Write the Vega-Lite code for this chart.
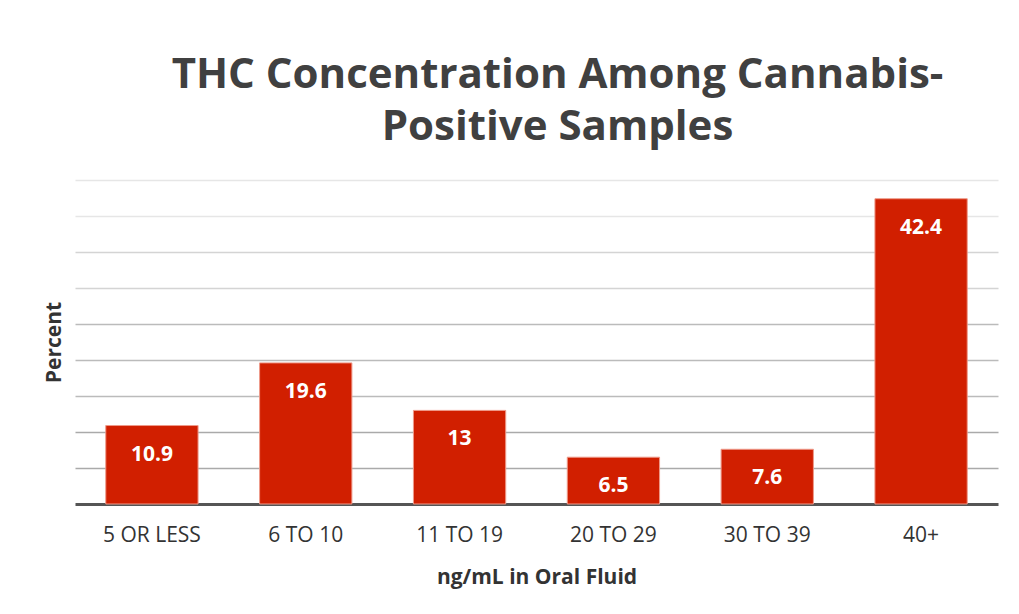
{
  "$schema": "https://vega.github.io/schema/vega-lite/v6.json",
  "width": 923,
  "height": 324,
  "autosize": {"type": "none"},
  "padding": {"left": 75, "top": 180, "right": 21, "bottom": 110},
  "background": "white",
  "title": {
    "text": ["THC Concentration Among Cannabis-", "Positive Samples"],
    "anchor": "middle",
    "frame": "group",
    "dx": 21,
    "font": "Open Sans",
    "fontSize": 42,
    "fontWeight": "bold",
    "color": "#404040",
    "lineHeight": 52,
    "offset": 31
  },
  "data": {
    "values": [
      {"range": "5 OR LESS", "pct": 10.9},
      {"range": "6 TO 10", "pct": 19.6},
      {"range": "11 TO 19", "pct": 13},
      {"range": "20 TO 29", "pct": 6.5},
      {"range": "30 TO 39", "pct": 7.6},
      {"range": "40+", "pct": 42.4}
    ]
  },
  "encoding": {
    "x": {
      "field": "range",
      "type": "nominal",
      "sort": null,
      "scale": {"paddingInner": 0.4, "paddingOuter": 0.2},
      "axis": {
        "title": "ng/mL in Oral Fluid",
        "labelAngle": 0,
        "labelFont": "Open Sans",
        "labelFontSize": 21,
        "labelColor": "#333333",
        "labelPadding": 20,
        "ticks": false,
        "domainColor": "#555555",
        "domainWidth": 3,
        "titleFont": "Open Sans",
        "titleFontSize": 21,
        "titleFontWeight": "bold",
        "titleColor": "#333333",
        "titlePadding": 21
      }
    },
    "y": {
      "field": "pct",
      "type": "quantitative",
      "scale": {"domain": [0, 45]},
      "axis": {
        "title": "Percent",
        "values": [5, 10, 15, 20, 25, 30, 35, 40, 45],
        "labels": false,
        "ticks": false,
        "domain": false,
        "grid": true,
        "gridWidth": 1.5,
        "gridColor": {
          "condition": [
            {"test": "datum.value <= 10", "value": "#aaaaaa"},
            {"test": "datum.value <= 25", "value": "#bbbbbb"},
            {"test": "datum.value <= 35", "value": "#d4d4d4"}
          ],
          "value": "#e6e6e6"
        },
        "titleFont": "Open Sans",
        "titleFontSize": 21,
        "titleFontWeight": "bold",
        "titleColor": "#333333",
        "titlePadding": 11
      }
    }
  },
  "layer": [
    {
      "mark": {"type": "bar", "color": "#d11f00", "stroke": "#ee9a8a", "strokeWidth": 1}
    },
    {
      "mark": {
        "type": "text",
        "color": "white",
        "font": "Open Sans",
        "fontSize": 21,
        "fontWeight": "bold",
        "baseline": "middle",
        "dy": 29
      },
      "encoding": {"text": {"field": "pct", "type": "quantitative"}}
    }
  ],
  "config": {"view": {"stroke": null}}
}
